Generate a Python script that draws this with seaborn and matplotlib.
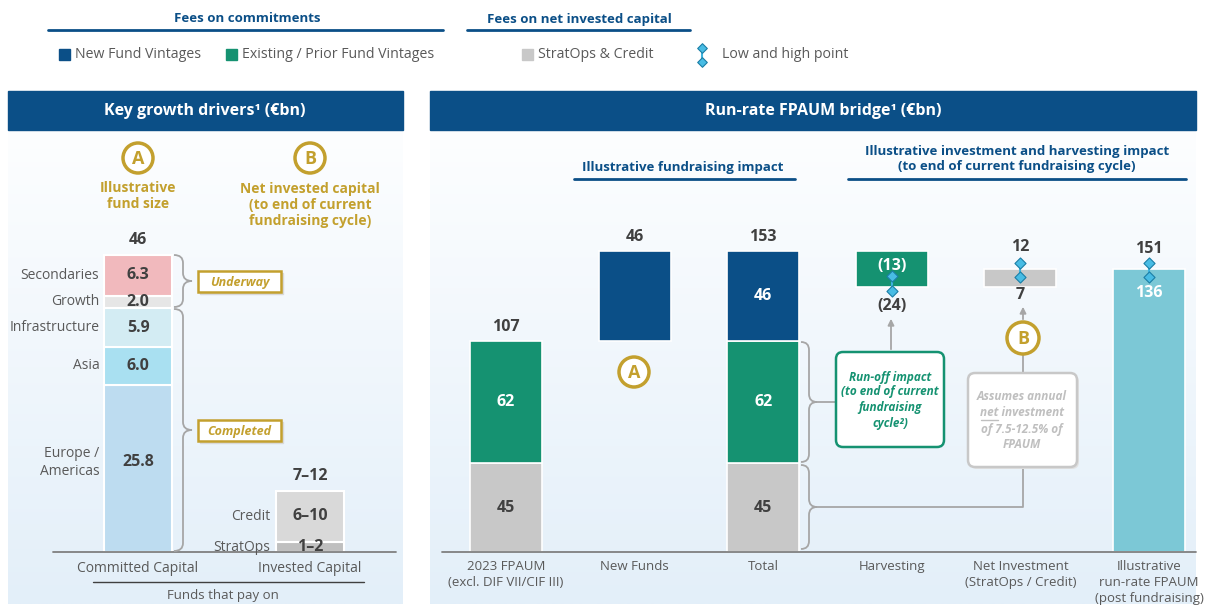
import numpy as np
import pandas as pd
import matplotlib.pyplot as plt
import seaborn as sns
from matplotlib.patches import Rectangle, FancyBboxPatch, Circle, PathPatch
from matplotlib.path import Path
from matplotlib.colors import LinearSegmentedColormap

# ---------- data ----------
drivers = ["Europe /\nAmericas", "Asia", "Infrastructure", "Growth", "Secondaries"]
driver_values = [25.8, 6.0, 5.9, 2.0, 6.3]
driver_colors = ["#bddcf0", "#a9e0f1", "#d3ecf3", "#e6e6e6", "#f1b9bd"]
driver_total = "46"

invested = ["StratOps", "Credit"]
invested_mid = [1.5, 8.0]
invested_labels = ["1–2", "6–10"]
invested_colors = ["#bfbfbf", "#d9d9d9"]
invested_total = "7–12"
left_cats = ["Committed Capital", "Invested Capital"]

bridge_cats = ["2023 FPAUM\n(excl. DIF VII/CIF III)", "New Funds", "Total", "Harvesting",
               "Net Investment\n(StratOps / Credit)", "Illustrative\nrun-rate FPAUM\n(post fundraising)"]
stratops_credit = 45
existing = 62
new_funds = 46
harvest_drop = 18.5      # bar drawn to the mid of the (13)-(24) range
net_investment = 9.2     # bar drawn to the mid of the 7-12 range
harvest_points = [140.0, 132.5]
netinv_points = [146.7, 139.6]
final_points = [146.7, 139.6]
harvest_labels = ["(13)", "(24)"]
netinv_labels = ["12", "7"]
final_labels = ["151", "136"]

NAVY = "#0b4f87"
GREEN = "#159271"
GRAY = "#c8c8c8"
TEAL = "#7cc8d6"
GOLD = "#c3a02e"
DARK = "#404040"
LABEL = "#595959"
LINE = "#a6a6a6"
VAL = 11.5

sns.set_theme(style="white")
plt.rcParams["font.family"] = ["Open Sans", "DejaVu Sans"]

W, H = 1206, 606
fig = plt.figure(figsize=(W / 100, H / 100), dpi=100)


def rect(x0, y0, x1, y1):
    return [x0 / W, 1 - y1 / H, (x1 - x0) / W, (y1 - y0) / H]


# ---------- background ----------
bg = fig.add_axes([0, 0, 1, 1], zorder=0)
grad = np.linspace(0, 1, 256).reshape(-1, 1)
cmap = LinearSegmentedColormap.from_list("panel", ["#fdfeff", "#e3eff9"])
for x0, x1 in [(8, 403), (430, 1196)]:
    bg.imshow(grad, cmap=cmap, extent=(x0, x1, 604, 130), aspect="auto")
    bg.add_patch(Rectangle((x0, 91), x1 - x0, 39, color=NAVY))
bg.set_xlim(0, W); bg.set_ylim(H, 0); bg.axis("off")
bg.text(205, 111, "Key growth drivers¹ (€bn)", color="white", fontsize=11.5,
        fontweight="bold", ha="center", va="center")
bg.text(823, 111, "Run-rate FPAUM bridge¹ (€bn)", color="white", fontsize=11.5,
        fontweight="bold", ha="center", va="center")

# ---------- left chart ----------
sL = 6.46
axL = fig.add_axes(rect(8, 130, 403, 552), zorder=1)
axL.set_facecolor("none")
axL.set_xlim(-0.756, 1.541); axL.set_ylim(0, 422 / sL)
axL.axis("off")
bottom = 0
for name, v, c in zip(drivers, driver_values, driver_colors):
    axL.bar(0, v, bottom=bottom, width=0.39, color=c, edgecolor="white", linewidth=1.5)
    shift = 1.0 if "\n" in name else 0
    axL.text(0, bottom + v / 2 + shift, f"{v:.1f}", ha="center", va="center",
             fontsize=VAL, fontweight="bold", color=DARK)
    axL.text(-0.225, bottom + v / 2 + shift, name, ha="right", va="center", fontsize=10,
             color=LABEL, linespacing=1.25)
    bottom += v
axL.annotate(driver_total, (0, bottom), xytext=(0, 15), textcoords="offset pixels",
             ha="center", va="center", fontsize=VAL, fontweight="bold", color=DARK)
bottom = 0
for name, v, lab, c in zip(invested, invested_mid, invested_labels, invested_colors):
    axL.bar(1, v, bottom=bottom, width=0.39, color=c, edgecolor="white", linewidth=1.5)
    axL.text(1, bottom + v / 2, lab, ha="center", va="center",
             fontsize=VAL, fontweight="bold", color=DARK)
    axL.text(0.77, bottom + v / 2, name, ha="right", va="center", fontsize=10, color=LABEL)
    bottom += v
axL.annotate(invested_total, (1, bottom), xytext=(0, 15), textcoords="offset pixels",
             ha="center", va="center", fontsize=VAL, fontweight="bold", color=DARK)
axL.axhline(0, xmin=(53 - 8) / 395, xmax=(396 - 8) / 395, color="#808080", lw=1.3, clip_on=False)
for i, lab in enumerate(left_cats):
    axL.annotate(lab, (i, 0), xytext=(0, -16), textcoords="offset pixels",
                 ha="center", va="center", fontsize=10, color=LABEL)

# ---------- right chart ----------
sR = 1.97
axR = fig.add_axes(rect(430, 130, 1196, 552), zorder=1)
axR.set_facecolor("none")
bw = 0.56
kw = dict(width=bw, edgecolor="white", linewidth=1.2)
base = stratops_credit + existing
total = base + new_funds
after_harvest = total - harvest_drop
final = after_harvest + net_investment

for x in (0, 2):
    axR.bar(x, stratops_credit, color=GRAY, **kw)
    axR.bar(x, existing, bottom=stratops_credit, color=GREEN, **kw)
    axR.text(x, stratops_credit / 2, str(stratops_credit), ha="center", va="center",
             fontsize=VAL, fontweight="bold", color=DARK)
    axR.text(x, stratops_credit + existing / 2, str(existing), ha="center", va="center",
             fontsize=VAL, fontweight="bold", color="white")
axR.bar(1, new_funds, bottom=base, color=NAVY, **kw)
axR.bar(2, new_funds, bottom=base, color=NAVY, **kw)
axR.text(2, base + new_funds / 2, str(new_funds), ha="center", va="center",
         fontsize=VAL, fontweight="bold", color="white")
axR.bar(3, total - after_harvest, bottom=after_harvest, color=GREEN, **kw)
axR.bar(4, net_investment, bottom=after_harvest, color=GRAY, **kw)
axR.bar(5, final, color=TEAL, **kw)

for x, top, lab in [(0, base, str(base)), (1, total, str(new_funds)), (2, total, str(total))]:
    axR.annotate(lab, (x, top), xytext=(0, 14), textcoords="offset pixels",
                 ha="center", va="center", fontsize=VAL, fontweight="bold", color=DARK)

pts = pd.DataFrame({
    "x": [3, 3, 4, 4, 5, 5],
    "y": harvest_points + netinv_points + final_points,
})
for x, ys in zip([3, 4, 5], [harvest_points, netinv_points, final_points]):
    axR.plot([x, x], ys, color="#3fb4de", lw=1.5, zorder=3)
sns.scatterplot(data=pts, x="x", y="y", marker="D", s=32, color="#48bce4",
                edgecolor="#1b7ea6", linewidth=0.8, ax=axR, zorder=4, legend=False)
axR.axis("off")
axR.set_xlim(-0.591, 5.365); axR.set_ylim(0, 422 / sR)

label_sets = [(3, harvest_points, harvest_labels, ("white", DARK), (10, -15)),
              (4, netinv_points, netinv_labels, (DARK, DARK), (16, -18)),
              (5, final_points, final_labels, (DARK, "white"), (14, -16))]
for x, ys, labs, cols, offs in label_sets:
    for y, lab, col, off in zip(ys, labs, cols, offs):
        axR.annotate(lab, (x, y), xytext=(0, off), textcoords="offset pixels",
                     ha="center", va="center", fontsize=VAL, fontweight="bold", color=col)

axR.axhline(0, xmin=12 / 766, xmax=1, color="#808080", lw=1.3, clip_on=False)
for i, lab in enumerate(bridge_cats):
    axR.annotate(lab, (i, 0), xytext=(0, -8), textcoords="offset pixels",
                 ha="center", va="top", fontsize=9.5, color=LABEL, linespacing=1.3)

# ---------- overlay ----------
ov = fig.add_axes([0, 0, 1, 1], zorder=3)
ov.set_facecolor("none")
ov.set_xlim(0, W); ov.set_ylim(H, 0); ov.axis("off")

# top legend
ov.text(247, 19, "Fees on commitments", color=NAVY, fontsize=9.5, fontweight="bold",
        ha="center", va="center")
ov.plot([48, 443], [30, 30], color=NAVY, lw=2)
ov.text(579, 19, "Fees on net invested capital", color=NAVY, fontsize=9.5,
        fontweight="bold", ha="center", va="center")
ov.plot([467, 690], [30, 30], color=NAVY, lw=2)
for x, c, lab in [(59, NAVY, "New Fund Vintages"), (226, GREEN, "Existing / Prior Fund Vintages"),
                  (522, GRAY, "StratOps & Credit")]:
    ov.add_patch(Rectangle((x, 49), 11, 11, color=c))
    ov.text(x + 16, 55, lab, fontsize=10.2, color=LABEL, va="center")
ov.plot([702, 702], [48, 62], color="#3fb4de", lw=1.5)
ov.scatter([702, 702], [48, 62], marker="D", s=24, color="#48bce4", edgecolor="#1b7ea6",
           linewidth=0.8, zorder=4)
ov.text(722, 55, "Low and high point", fontsize=10.2, color=LABEL, va="center")

# section headings right
ov.text(683, 168, "Illustrative fundraising impact", color=NAVY, fontsize=9.5,
        fontweight="bold", ha="center", va="center")
ov.plot([574, 795], [179, 179], color=NAVY, lw=2)
ov.text(1017, 159, "Illustrative investment and harvesting impact\n(to end of current fundraising cycle)",
        color=NAVY, fontsize=9.5, fontweight="bold", ha="center", va="center", linespacing=1.2)
ov.plot([848, 1186], [179, 179], color=NAVY, lw=2)


def circ(x, y, letter, r=15):
    ov.add_patch(Circle((x, y), r, facecolor="white", edgecolor=GOLD, lw=2.5, zorder=5))
    ov.text(x, y + 1, letter, color=GOLD, fontsize=13, fontweight="bold",
            ha="center", va="center", zorder=6)


def brace(x, y0, y1, w=16):
    ym = (y0 + y1) / 2
    r = min(8, (y1 - y0) / 4)
    xm = x + w / 2
    verts = [(x, y0), (xm, y0), (xm, y0 + r), (xm, ym - r), (xm, ym), (x + w, ym),
             (xm, ym), (xm, ym + r), (xm, y1 - r), (xm, y1), (x, y1)]
    codes = [Path.MOVETO, Path.CURVE3, Path.CURVE3, Path.LINETO, Path.CURVE3, Path.CURVE3,
             Path.CURVE3, Path.CURVE3, Path.LINETO, Path.CURVE3, Path.CURVE3]
    ov.add_patch(PathPatch(Path(verts, codes), facecolor="none", edgecolor=LINE, lw=1.3))
    return x + w, ym


def tag(x0, y0, x1, y1, text):
    ov.add_patch(Rectangle((x0 + 2, y0 + 2), x1 - x0, y1 - y0, color="#d9d9d9", zorder=4))
    ov.add_patch(Rectangle((x0, y0), x1 - x0, y1 - y0, facecolor="white", edgecolor=GOLD,
                           lw=1.8, zorder=5))
    ov.text((x0 + x1) / 2, (y0 + y1) / 2 + 1, text, color=GOLD, fontsize=9,
            fontweight="bold", style="italic", ha="center", va="center", zorder=6)


# left panel annotations
circ(138, 158, "A")
circ(310, 158, "B")
ov.text(138, 196, "Illustrative\nfund size", color=GOLD, fontsize=10, fontweight="bold",
        ha="center", va="center", linespacing=1.15)
ov.text(310, 205, "Net invested capital\n(to end of current\nfundraising cycle)", color=GOLD,
        fontsize=10, fontweight="bold", ha="center", va="center", linespacing=1.15)
brace(174, 255, 307, w=18)
brace(174, 309, 551, w=18)
tag(198, 271, 281, 292, "Underway")
tag(198, 420, 281, 441, "Completed")
ov.plot([93, 364], [582, 582], color=DARK, lw=1)
ov.text(223, 595, "Funds that pay on", fontsize=9.5, color=LABEL, ha="center", va="center")

# right panel annotations
circ(634, 372, "A")
tx, ty = brace(801, 342, 462, w=16)
ov.plot([tx, 836], [ty, ty], color=LINE, lw=1.3)
tx2, ty2 = brace(801, 465, 549, w=16)
ov.plot([tx2, 1023, 1023], [ty2, ty2, 467], color=LINE, lw=1.3)

# run-off box
ov.add_patch(FancyBboxPatch((836, 352), 108, 95, boxstyle="round,pad=0,rounding_size=7",
                            facecolor="white", edgecolor=GREEN, lw=1.8, zorder=5))
for y, line in zip([377, 392, 407, 423],
                   ["Run-off impact", "(to end of current", "fundraising", "cycle²)"]):
    ov.text(890, y, line, color=GREEN, fontsize=8.5, fontweight="bold", style="italic",
            ha="center", va="center", zorder=6)
ov.annotate("", xy=(891, 316), xytext=(891, 352),
            arrowprops=dict(arrowstyle="-|>", color=LINE, lw=1.3, mutation_scale=9))

# net investment box
circ(1023, 338, "B", r=16)
ov.annotate("", xy=(1023, 304), xytext=(1023, 322),
            arrowprops=dict(arrowstyle="-|>", color=LINE, lw=1.3, mutation_scale=9))
ov.plot([1023, 1023], [354, 373], color=LINE, lw=1.3)
ov.add_patch(FancyBboxPatch((970, 375), 109, 94, boxstyle="round,pad=0,rounding_size=7",
                            facecolor="#e2e2e2", edgecolor="none", zorder=4))
ov.add_patch(FancyBboxPatch((968, 373), 109, 94, boxstyle="round,pad=0,rounding_size=7",
                            facecolor="white", edgecolor="#c8c8c8", lw=1.8, zorder=5))
box_lines = ["Assumes annual", "net investment", "of 7.5-12.5% of", "FPAUM"]
txt_kw = dict(color="#bfbfbf", fontsize=8.5, fontweight="bold", style="italic",
              va="center", zorder=6)
line_objs = []
for y, line in zip([397, 413, 429, 445], box_lines):
    line_objs.append(ov.text(1022, y, line, ha="center", **txt_kw))

# underline "net" on the second line
fig.canvas.draw()
rend = fig.canvas.get_renderer()
inv = ov.transData.inverted()
bb = line_objs[1].get_window_extent(rend)
probe = ov.text(0, 0, "net", **txt_kw)
nb = probe.get_window_extent(rend)
probe.remove()
x_left = inv.transform((bb.x0, bb.y0))[0]
x_right = inv.transform((bb.x0 + nb.width, bb.y0))[0]
ov.plot([x_left + 1, x_right], [419.5, 419.5], color="#bfbfbf", lw=1, zorder=6)

fig.savefig("out.png", dpi=100)
